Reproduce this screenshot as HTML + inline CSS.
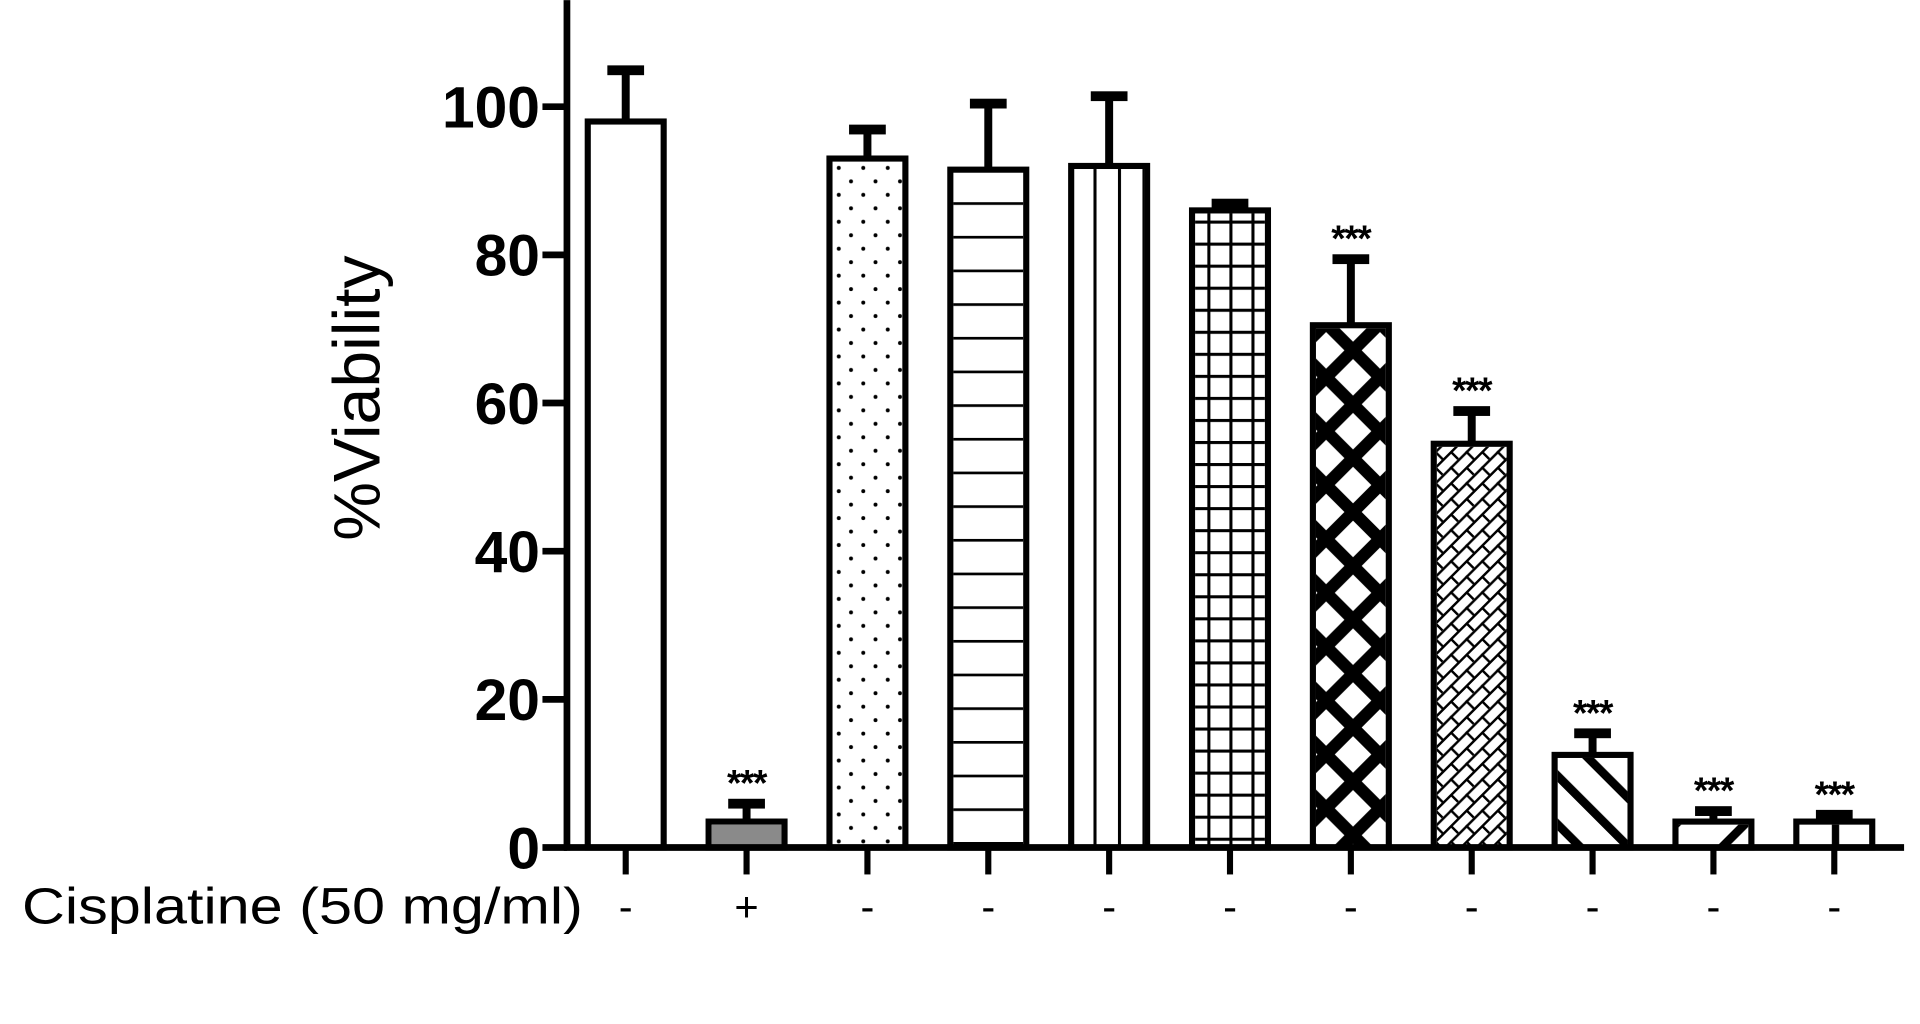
<!DOCTYPE html>
<html><head><meta charset="utf-8"><style>
html,body{margin:0;padding:0;background:#fff;}
svg{display:block;}
</style></head><body>
<svg id="chart" width="1920" height="1024" viewBox="0 0 1568 836" xmlns="http://www.w3.org/2000/svg" font-family="Liberation Sans, Arial, sans-serif">
<defs>
<pattern id="p-dots" patternUnits="userSpaceOnUse" width="20" height="22"><circle cx="5" cy="5" r="1.6" fill="#000"/><circle cx="15" cy="16" r="1.6" fill="#000"/></pattern>
<pattern id="p-hlines" patternUnits="userSpaceOnUse" width="20" height="27.5"><rect x="0" y="0" width="20" height="2.2" fill="#000"/></pattern>
<pattern id="p-vlines" patternUnits="userSpaceOnUse" width="20" height="20" x="893"><rect x="0" y="0" width="2.5" height="20" fill="#000"/></pattern>
<pattern id="p-grid" patternUnits="userSpaceOnUse" width="18" height="18" x="986" y="0"><rect x="0" y="0" width="2.5" height="18" fill="#000"/><rect x="0" y="0" width="18" height="2.5" fill="#000"/></pattern>
<pattern id="p-diamond" patternUnits="userSpaceOnUse" width="44" height="44" x="1083"><path d="M0 0L44 44M44 0L0 44M-22 22L22 66M22 -22L66 22M22 -22L-22 22M66 22L22 66" stroke="#000" stroke-width="10"/></pattern>
<pattern id="p-brick" patternUnits="userSpaceOnUse" width="18" height="18" patternTransform="rotate(-45)"><rect x="0" y="0" width="18" height="2" fill="#000"/><rect x="0" y="9" width="18" height="2" fill="#000"/><rect x="0" y="0" width="2" height="9" fill="#000"/><rect x="9" y="9" width="2" height="9" fill="#000"/></pattern>
<pattern id="p-bstripe" patternUnits="userSpaceOnUse" width="28" height="28" patternTransform="rotate(-45)"><rect x="0" y="0" width="7" height="28" fill="#000"/></pattern>
<pattern id="p-fstripe" patternUnits="userSpaceOnUse" width="40" height="40" x="1400" patternTransform="rotate(45)"><rect x="0" y="0" width="7" height="40" fill="#000"/></pattern>
<pattern id="p-vbold" patternUnits="userSpaceOnUse" width="62" height="20" x="1467"><rect x="29" y="0" width="6" height="20" fill="#000"/></pattern>
</defs>
<g id="plot"></g>
</svg>
<script>
const categories = ["Control","Cisplatine","T1","T2","T3","T4","T5","T6","T7","T8","T9"];
const cisplatine = ["-","+","-","-","-","-","-","-","-","-","-"];
const values = [98, 3.5, 93, 91.5, 92, 86, 70.5, 54.5, 12.5, 3.5, 3.5];
const errors = [7, 2.5, 4, 9, 9.5, 1, 9, 4.5, 3, 1.5, 1];
const significant = [false, true, false, false, false, false, true, true, true, true, true];
const fills = ["#fff","#8a8a8a","url(#p-dots)","url(#p-hlines)","url(#p-vlines)","url(#p-grid)","url(#p-diamond)","url(#p-brick)","url(#p-bstripe)","url(#p-fstripe)","url(#p-vbold)"];
const yTicks = [0, 20, 40, 60, 80, 100];

const NS = "http://www.w3.org/2000/svg";
const g = document.getElementById("plot");
const X0 = 463, X1 = 1555, Y0 = 692, PX = 6.05;
function yScale(v){ return Y0 - v * PX; }
function xScale(i){ return 511 + i * 98.7; }
function mk(tag, attrs, parent){ const e = document.createElementNS(NS, tag); for (const k in attrs) e.setAttribute(k, attrs[k]); (parent||g).appendChild(e); return e; }

values.forEach((v, i) => {
  const cx = xScale(i), w = 62;
  const grp = mk("g", {});
  
  
  const top = yScale(v + errors[i]);
  const eb = mk("line", {x1: cx, x2: cx, y1: yScale(v), y2: top, stroke: "#000", "stroke-width": 6.5}, grp);
  
  
  const cap = mk("rect", {x: cx - 15, y: top - 3.5, width: 30, height: 8, fill: "#000"}, grp);
  
  
  const r = mk("rect", {x: cx - w/2, y: yScale(v), width: w, height: Y0 - yScale(v), fill: "#fff", stroke: "#000", "stroke-width": 5}, grp);
  
  
  if (fills[i] !== "#fff") {
    const f = mk("rect", {x: cx - w/2 + 2.5, y: yScale(v) + 2.5, width: w - 5, height: Math.max(0, Y0 - yScale(v) - 2.5), fill: fills[i]}, grp);
    
    
  }
  if (significant[i]) {
    const s = mk("text", {x: cx, y: top - 6, "text-anchor": "middle", "font-size": 30, "font-weight": "bold", "letter-spacing": "-1"}, grp);
    s.textContent = "***";
    
    
  }
  const t = mk("line", {x1: cx, x2: cx, y1: Y0, y2: 714, stroke: "#000", "stroke-width": 5});
  
  
  const lab = mk("text", {x: cx, y: 752, "text-anchor": "middle", "font-size": 34}, g);
  lab.textContent = cisplatine[i];
  
  
});

const ya = mk("line", {x1: X0, x2: X0, y1: 0, y2: Y0 + 2.5, stroke: "#000", "stroke-width": 5.5});


const xa = mk("line", {x1: X0 - 2.5, x2: X1, y1: Y0, y2: Y0, stroke: "#000", "stroke-width": 5.5});


yTicks.forEach(v => {
  const t = mk("line", {x1: X0 - 20, x2: X0, y1: yScale(v), y2: yScale(v), stroke: "#000", "stroke-width": 5.5});
  
  
  const l = mk("text", {x: 441, y: yScale(v) + 17, "text-anchor": "end", "font-size": 48, "font-weight": "bold"});
  l.textContent = v;
  
  
});
const yt = mk("text", {x: 0, y: 0, "text-anchor": "middle", "font-size": 54, transform: "translate(310,325) rotate(-90)"});
yt.textContent = "%Viability";


const rl = mk("text", {x: 18, y: 754, "font-size": 42, textLength: 458, lengthAdjust: "spacingAndGlyphs"});
rl.textContent = "Cisplatine (50 mg/ml)";


</script>
</body></html>
